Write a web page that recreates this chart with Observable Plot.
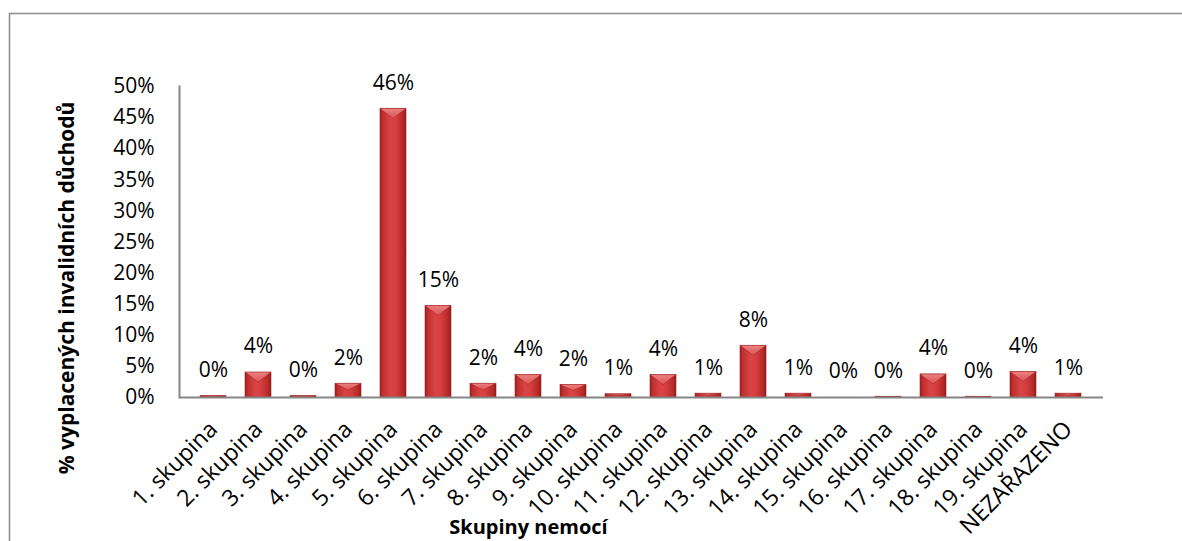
<!DOCTYPE html>
<html><head><meta charset="utf-8">
<script src="https://cdn.jsdelivr.net/npm/d3@7"></script>
<script src="https://cdn.jsdelivr.net/npm/@observablehq/plot@0.6"></script>
<style>
html,body{margin:0;padding:0;background:#fff;}
#chart{width:1182px;height:541px;overflow:hidden;position:relative;}
</style></head><body><div id="chart"></div>
<script>
const categories = ["1. skupina","2. skupina","3. skupina","4. skupina","5. skupina","6. skupina","7. skupina","8. skupina","9. skupina","10. skupina","11. skupina","12. skupina","13. skupina","14. skupina","15. skupina","16. skupina","17. skupina","18. skupina","19. skupina","NEZAŘAZENO"];
const values = [0.002,0.040,0.002,0.022,0.464,0.147,0.022,0.036,0.020,0.005,0.036,0.006,0.083,0.006,0.000,0.001,0.037,0.001,0.041,0.006];
const labels = ["0%","4%","0%","2%","46%","15%","2%","4%","2%","1%","4%","1%","8%","1%","0%","0%","4%","0%","4%","1%"];
const yTicks = [0,0.05,0.10,0.15,0.20,0.25,0.30,0.35,0.40,0.45,0.50];
const yTitle = "% vyplacených invalidních důchodů";
const xTitle = "Skupiny nemocí";

const data = categories.map((c, i) => ({category: c, value: values[i], label: labels[i]}));

const plot = Plot.plot({
  width: 1182, height: 541,
  marginLeft: 179, marginRight: 79, marginTop: 86, marginBottom: 144,
  style: {fontFamily: "'Open Sans', sans-serif", fontSize: "21px", color: "#000", background: "#fff", overflow: "visible"},
  x: {domain: categories, padding: 0.42, label: null},
  y: {domain: [0, 0.5], label: null},
  marks: [
    Plot.axisX({tickSize: 0, tickRotate: -45, tickPadding: 28, fontSize: 23, label: null}),
    Plot.axisY({ticks: yTicks, tickFormat: d3.format(".0%"), tickSize: 0, tickPadding: 25, fontSize: 21, label: null}),
    Plot.barY(data, {x: "category", y: "value", fill: "url(#barGrad)", stroke: "#a52626", strokeWidth: 0.6}),
    Plot.frame({anchor: "left", stroke: "#868686", strokeWidth: 2}),
    Plot.ruleY([0], {stroke: "#868686", strokeWidth: 2}),
    Plot.text(data, {x: "category", y: "value", text: "label", dy: -26, fontSize: 21}),
    Plot.text([yTitle], {text: d => d, frameAnchor: "left", textAnchor: "middle", lineAnchor: "middle", rotate: -90, dx: -112, dy: 46, fontWeight: "bold", fontSize: 21}),
    Plot.text([xTitle], {text: d => d, frameAnchor: "bottom", textAnchor: "middle", lineAnchor: "middle", dx: -113, dy: 130, fontWeight: "bold", fontSize: 20})
  ]
});

const svg = d3.select(plot);
const defs = svg.insert("defs", ":first-child");
const g = defs.append("linearGradient").attr("id", "barGrad").attr("x1", 0).attr("x2", 1).attr("y1", 0).attr("y2", 0);
[["0%", "#951c1c"], ["10%", "#bf2e2e"], ["40%", "#da4444"], ["60%", "#d63f3f"], ["90%", "#b52828"], ["100%", "#8a1a1a"]]
  .forEach(([o, c]) => g.append("stop").attr("offset", o).attr("stop-color", c));
const gt = defs.append("linearGradient").attr("id", "bevelGrad").attr("x1", 0).attr("x2", 0).attr("y1", 0).attr("y2", 1);
[["0%", "#f08a8a"], ["100%", "#dc5454"]].forEach(([o, c]) => gt.append("stop").attr("offset", o).attr("stop-color", c));

// top bevel on each bar rect drawn by Plot
svg.selectAll('g[aria-label="bar"] rect').each(function() {
  const r = d3.select(this);
  const x = +r.attr("x"), y = +r.attr("y"), w = +r.attr("width"), h = +r.attr("height");
  if (!(h > 0.5)) return;
  const d = Math.min(10, h / 2);
  d3.select(this.parentNode).append("polygon")
    .attr("points", `${x},${y} ${x + w},${y} ${x + w / 2},${y + d}`)
    .attr("fill", "url(#bevelGrad)").attr("opacity", 0.9);
});

svg.append("rect").attr("x", 9.5).attr("y", 13.5).attr("width", 1200).attr("height", 600)
  .attr("fill", "none").attr("stroke", "#8c8c8c").attr("stroke-width", 1.5);
document.getElementById("chart").appendChild(plot);
</script></body></html>
